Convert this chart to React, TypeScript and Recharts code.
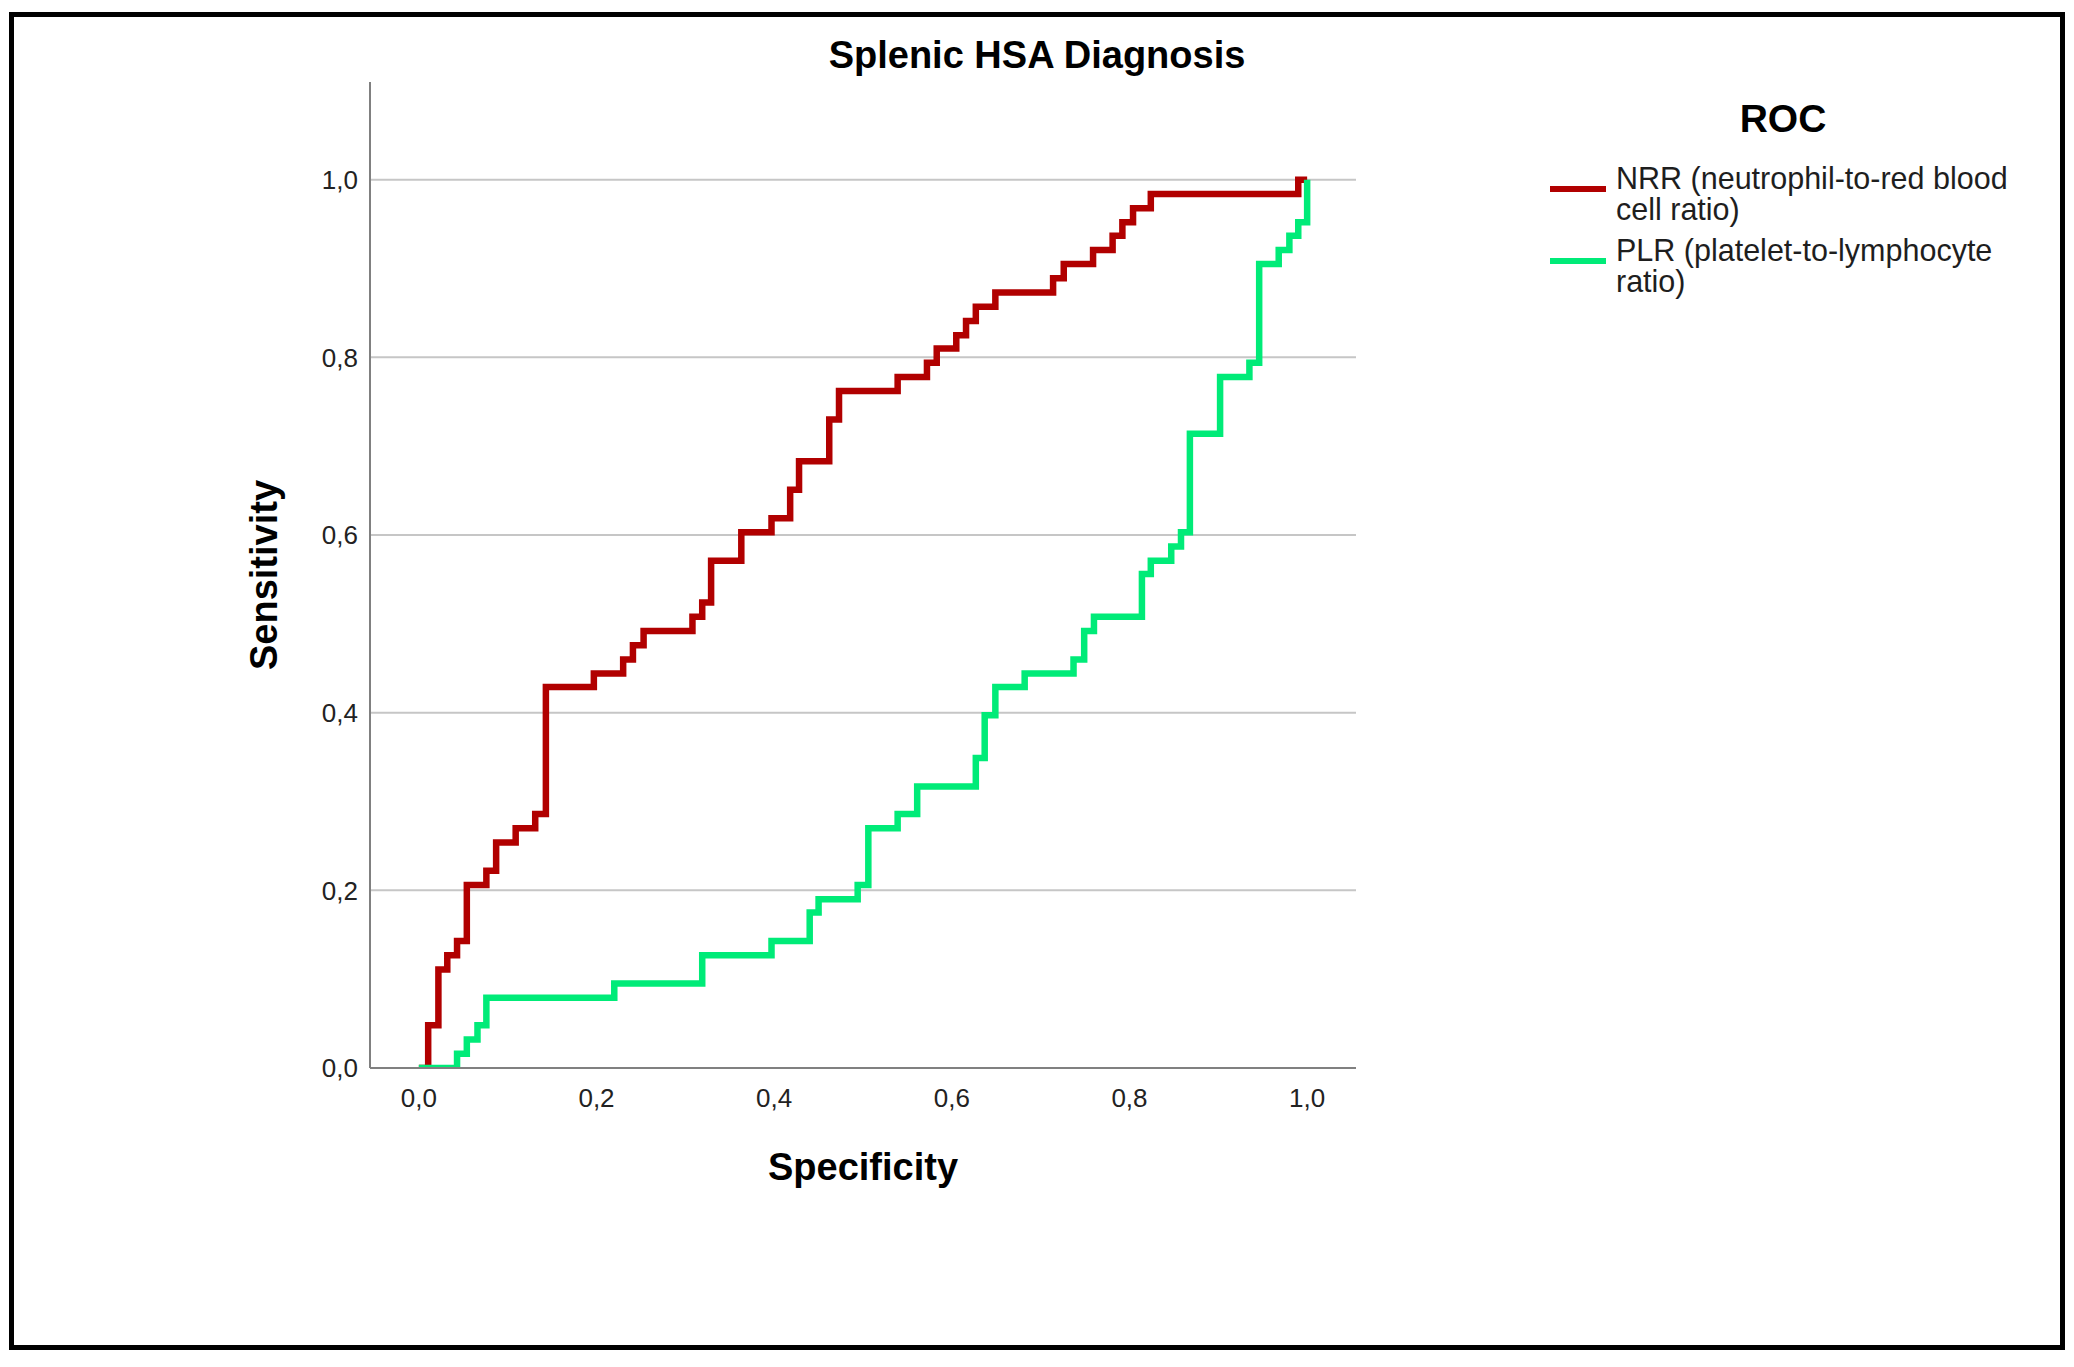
import React from "react";
import { LineChart, Line, XAxis, YAxis, CartesianGrid, Legend, Label } from "recharts";

// ROC corner points (x = where the curve rises, y = level after rising)
const nrrX = [0, 0.0105, 0.022, 0.032, 0.043, 0.054, 0.076, 0.087, 0.109, 0.131, 0.143, 0.197, 0.23, 0.241, 0.253, 0.308, 0.319, 0.329, 0.363, 0.397, 0.418, 0.428, 0.462, 0.473, 0.539, 0.572, 0.583, 0.605, 0.616, 0.627, 0.649, 0.714, 0.726, 0.759, 0.781, 0.792, 0.804, 0.824, 0.99, 1.0];
const nrrY = [0, 0.048, 0.111, 0.127, 0.143, 0.206, 0.222, 0.254, 0.27, 0.286, 0.429, 0.444, 0.46, 0.476, 0.492, 0.508, 0.524, 0.571, 0.603, 0.619, 0.651, 0.683, 0.73, 0.762, 0.778, 0.794, 0.81, 0.825, 0.841, 0.857, 0.873, 0.889, 0.905, 0.921, 0.937, 0.952, 0.968, 0.984, 1.0, 1.0];

const plrX = [0, 0.043, 0.054, 0.066, 0.076, 0.22, 0.319, 0.397, 0.44, 0.45, 0.494, 0.506, 0.539, 0.561, 0.627, 0.637, 0.649, 0.682, 0.737, 0.749, 0.76, 0.814, 0.824, 0.847, 0.858, 0.868, 0.902, 0.935, 0.946, 0.968, 0.98, 0.99, 1.0];
const plrY = [0, 0.016, 0.032, 0.048, 0.079, 0.095, 0.127, 0.143, 0.175, 0.19, 0.206, 0.27, 0.286, 0.317, 0.349, 0.397, 0.429, 0.444, 0.46, 0.492, 0.508, 0.556, 0.571, 0.587, 0.603, 0.714, 0.778, 0.794, 0.905, 0.921, 0.937, 0.952, 1.0];

const axisTicks = [0, 0.2, 0.4, 0.6, 0.8, 1.0];

const seriesNames = ["NRR (neutrophil-to-red blood cell ratio)", "PLR (platelet-to-lymphocyte ratio)"];
const seriesColors = ["#b10000", "#00eb78"];

const nrrData = nrrX.map((x, i) => ({ x, y: nrrY[i] }));
const plrData = plrX.map((x, i) => ({ x, y: plrY[i] }));

const FONT = '"Liberation Sans", Arial, sans-serif';
const fmt = (v: number) => v.toFixed(1).replace(".", ",");

function RocLegend(props: any) {
  const payload = props.payload && props.payload.length ? props.payload : seriesNames.map((n, i) => ({ value: n, color: seriesColors[i] }));
  return (
    <div style={{ position: "relative", width: 480, height: 220, fontFamily: FONT, color: "#1e1e1e" }}>
      <div style={{ position: "absolute", left: 0, top: 0, width: 466, textAlign: "center", fontSize: 39, lineHeight: "39px", fontWeight: "bold", color: "#000" }}>
        ROC
      </div>
      {payload.map((p: any, i: number) => (
        <div key={i} style={{ position: "absolute", left: 0, top: 64 + i * 72.4 }}>
          <div style={{ position: "absolute", left: 0, top: 23, width: 56, height: 6, background: p.color }} />
          <div style={{ position: "absolute", left: 66, top: 0, width: 405, fontSize: 30.5, lineHeight: "30.7px" }}>{p.value}</div>
        </div>
      ))}
    </div>
  );
}

export default function App() {
  return (
    <div style={{ position: "absolute", left: 0, top: 0, width: 2074, height: 1367, background: "#fff" }}>
      <div
        style={{
          position: "absolute",
          left: 0,
          top: 36,
          width: 2074,
          textAlign: "center",
          fontFamily: FONT,
          fontWeight: "bold",
          fontSize: 38,
          lineHeight: "38px",
          color: "#000",
        }}
      >
        Splenic HSA Diagnosis
      </div>
      <LineChart width={2074} height={1367} margin={{ top: 82, right: 718, bottom: 239, left: 310 }}>
        <CartesianGrid vertical={false} horizontalValues={axisTicks} stroke="#c6c6c6" strokeWidth={2} />
        <XAxis
          type="number"
          dataKey="x"
          domain={[-0.055, 1.055]}
          ticks={axisTicks}
          allowDataOverflow
          tickFormatter={fmt}
          tickLine={false}
          tickSize={0}
          tickMargin={21}
          height={60}
          axisLine={{ stroke: "#808080", strokeWidth: 2 }}
          tick={{ fill: "#222", fontSize: 26, fontFamily: FONT }}
        >
          <Label value="Specificity" position="bottom" offset={25} fill="#000" fontSize={38} fontWeight="bold" fontFamily={FONT} />
        </XAxis>
        <YAxis
          type="number"
          domain={[0, 1.11]}
          ticks={axisTicks}
          allowDataOverflow
          tickFormatter={fmt}
          tickLine={false}
          tickSize={0}
          tickMargin={12}
          width={60}
          axisLine={{ stroke: "#808080", strokeWidth: 2 }}
          tick={{ fill: "#222", fontSize: 26, fontFamily: FONT }}
        >
          <Label
            content={(p: any) => {
              const vb = p.viewBox || { x: 310, y: 82, width: 60, height: 986 };
              const cx = vb.x - 33;
              const cy = vb.y + vb.height / 2;
              return (
                <text x={cx} y={cy} transform={`rotate(-90 ${cx} ${cy})`} textAnchor="middle" fill="#000" fontSize={38} fontWeight="bold" fontFamily={FONT}>
                  Sensitivity
                </text>
              );
            }}
          />
        </YAxis>
        {/* zero-size wrapper so the legend does not shrink the plot area */}
        <Legend
          content={<RocLegend />}
          wrapperStyle={{ position: "absolute", left: 1550, top: 99, width: 0, height: 0, overflow: "visible", margin: 0 }}
        />
        <Line
          data={nrrData}
          dataKey="y"
          name={seriesNames[0]}
          type="stepAfter"
          stroke={seriesColors[0]}
          strokeWidth={6.5}
          strokeLinejoin="miter"
          dot={false}
          activeDot={false}
          isAnimationActive={false}
        />
        <Line
          data={plrData}
          dataKey="y"
          name={seriesNames[1]}
          type="stepAfter"
          stroke={seriesColors[1]}
          strokeWidth={6.5}
          strokeLinejoin="miter"
          dot={false}
          activeDot={false}
          isAnimationActive={false}
        />
      </LineChart>
      <div
        style={{
          position: "absolute",
          left: 9,
          top: 12,
          width: 2056,
          height: 1338,
          boxSizing: "border-box",
          border: "5px solid #000",
          pointerEvents: "none",
        }}
      />
    </div>
  );
}
